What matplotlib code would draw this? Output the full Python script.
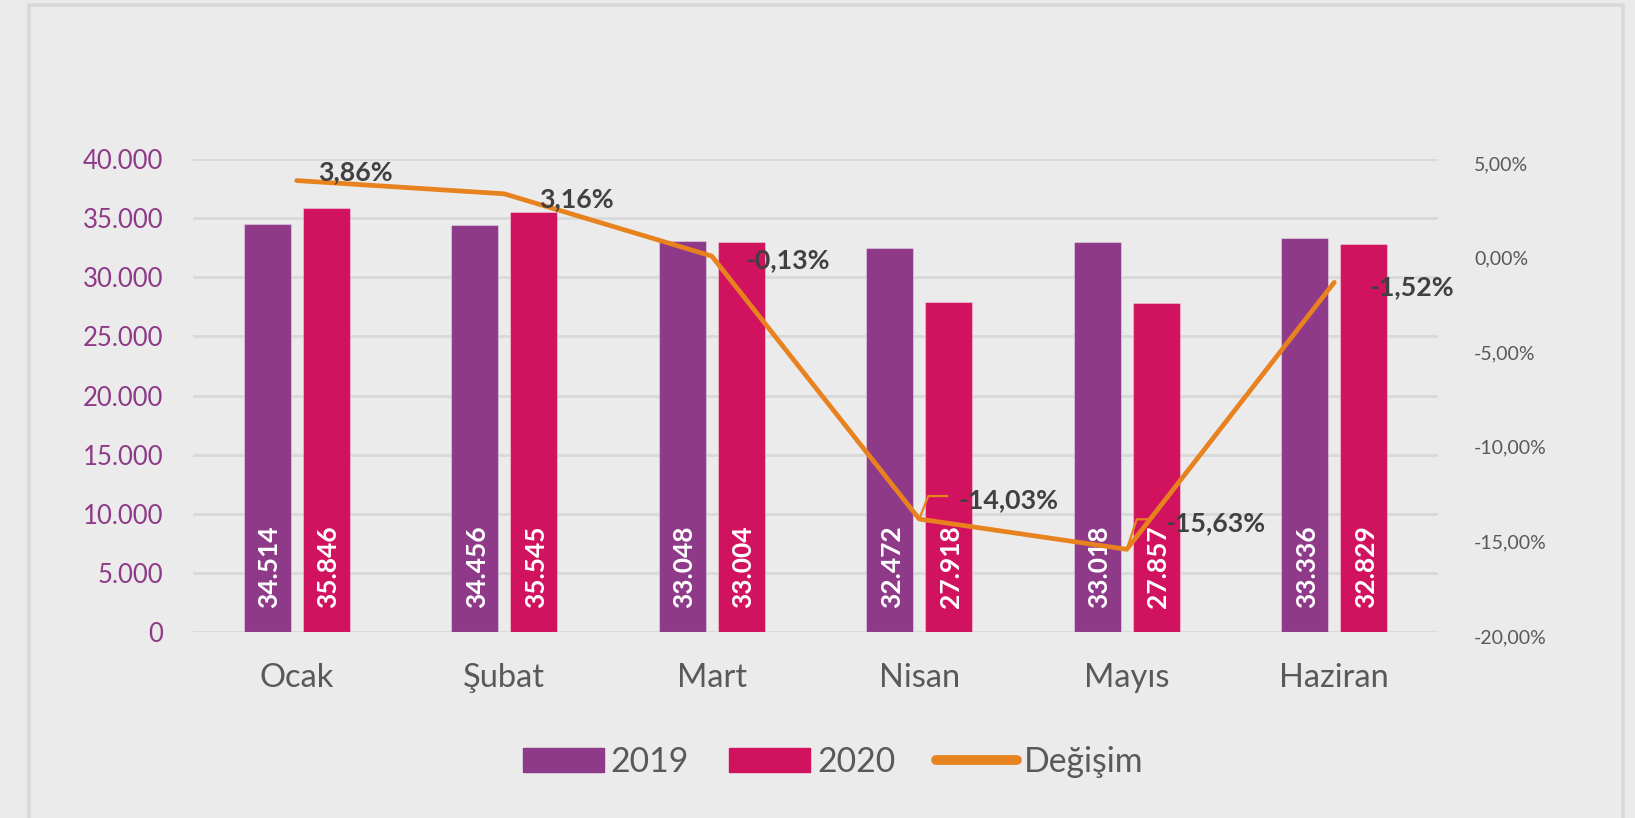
import matplotlib
matplotlib.use('Agg')
import matplotlib.pyplot as plt
import matplotlib.patches as mpatches
import matplotlib.transforms as mtransforms
from matplotlib.lines import Line2D
from matplotlib.ticker import FuncFormatter
import numpy as np

# data
months = ["Ocak", "Şubat", "Mart", "Nisan", "Mayıs", "Haziran"]
values_2019 = [34514, 34456, 33048, 32472, 33018, 33336]
values_2020 = [35846, 35545, 33004, 27918, 27857, 32829]
change_pct = [3.86, 3.16, -0.13, -14.03, -15.63, -1.52]

# label offsets for the change labels (pixels: left edge of text, centre y, + is down)
label_offsets = [(21, -8), (35, 5), (34, 4), (39, -19), (39, -26), (35, 5)]
# leader lines (pixel offsets from point) for the labels that got moved in the original
leaders = {3: [(0, 0), (9, -23), (28, -23)], 4: [(0, 0), (10, -30), (23, -30)]}

c2019 = "#8E3A89"
c2020 = "#D1135F"
corange = "#E8821E"
grid_c = "#D9D9D9"
txt_gray = "#595959"
lab_dark = "#404040"

plt.rcParams['font.family'] = ['Lato', 'DejaVu Sans']

W, H = 1635, 818
fig = plt.figure(figsize=(W / 100, H / 100), dpi=100)
fig.patch.set_facecolor("#EAEAEA")

# panel with a light border like the excel chart area
panel = mpatches.Rectangle((29 / W, -0.05), (1623 - 29) / W, 1.05 - 5.5 / H,
                           transform=fig.transFigure, facecolor="#EBEBEB",
                           edgecolor=grid_c, lw=2.6, zorder=-10)
fig.patches.append(panel)

ax = fig.add_axes([193 / W, 1 - 632 / H, 1245 / W, 473 / H])
ax.patch.set_alpha(0)

x = np.arange(len(months))
bw = 0.225
off = 0.1425
edge = (1, 1, 1, 0.35)
b1 = ax.bar(x - off, values_2019, bw, color=c2019, edgecolor=edge, lw=0.8, zorder=3, label="2019")
b2 = ax.bar(x + off, values_2020, bw, color=c2020, edgecolor=edge, lw=0.8, zorder=3, label="2020")

ax.set_xlim(-0.5, len(months) - 0.5)
ax.set_ylim(0, 40000)
ax.set_yticks(np.arange(0, 40001, 5000))
ax.yaxis.set_major_formatter(FuncFormatter(lambda v, p: f"{int(v):,}".replace(",", ".")))
ax.grid(axis='y', color=grid_c, lw=2.0, zorder=0)
ax.set_axisbelow(True)
for s in ax.spines.values():
    s.set_visible(False)
ax.tick_params(axis='y', length=0, pad=21.5, labelsize=18.5, labelcolor=c2019)
ax.set_xticks(x)
ax.set_xticklabels(months)
ax.tick_params(axis='x', length=0, pad=22, labelsize=23.5, labelcolor=txt_gray)

# value labels inside the bars
for bars, vals in ((b1, values_2019), (b2, values_2020)):
    for rect, v in zip(bars, vals):
        ax.annotate(f"{v:,}".replace(",", "."),
                    (rect.get_x() + rect.get_width() / 2, 0),
                    xytext=(1.5, 24 * 0.72), textcoords='offset points',
                    rotation=90, ha='center', va='bottom',
                    color='white', fontsize=19, fontweight='bold', zorder=5)

ax2 = ax.twinx()
ax2.set_ylim(-20, 5)
ax2.set_yticks(np.arange(-20, 5.1, 5))
ax2.yaxis.set_major_formatter(FuncFormatter(lambda v, p: f"{v:.2f}".replace(".", ",") + "%"))
for s in ax2.spines.values():
    s.set_visible(False)
ax2.tick_params(axis='y', length=0, pad=26, labelsize=14, labelcolor=txt_gray)
# excel puts these a few pixels below the gridlines
shift = mtransforms.ScaledTranslation(0, -4 / 100, fig.dpi_scale_trans)
for lbl in ax2.get_yticklabels():
    lbl.set_transform(lbl.get_transform() + shift)

ax2.plot(x, change_pct, color=corange, lw=3.4, solid_capstyle='round',
         solid_joinstyle='round', zorder=4)

for i, v in enumerate(change_pct):
    dx, dy = label_offsets[i]
    ax2.annotate(f"{v:.2f}".replace(".", ",") + "%", (x[i], v),
                 xytext=(dx * 0.72, -dy * 0.72), textcoords='offset points',
                 ha='left', va='center', color=lab_dark, fontsize=19.3,
                 fontweight='bold', zorder=6)

# leader lines, drawn in display pixels
for i, pts in leaders.items():
    px, py = ax2.transData.transform((x[i], change_pct[i]))
    xs = [px + a for a, b in pts]
    ys = [py - b for a, b in pts]
    fig.add_artist(Line2D(xs, ys, transform=mtransforms.IdentityTransform(),
                          color=corange, lw=1.6, zorder=6))

handles = [mpatches.Patch(color=c2019, label="2019"),
           mpatches.Patch(color=c2020, label="2020"),
           Line2D([0], [0], color=corange, lw=7, solid_capstyle='round', label="Değişim")]
leg = fig.legend(handles=handles, loc='center', bbox_to_anchor=(833 / W, 1 - 762 / H),
                 ncol=3, frameon=False, fontsize=24.3, handlelength=2.4, handleheight=0.7,
                 handletextpad=0.2, columnspacing=1.2, labelcolor=txt_gray)

fig.savefig("out.png", dpi=100, facecolor=fig.get_facecolor())
